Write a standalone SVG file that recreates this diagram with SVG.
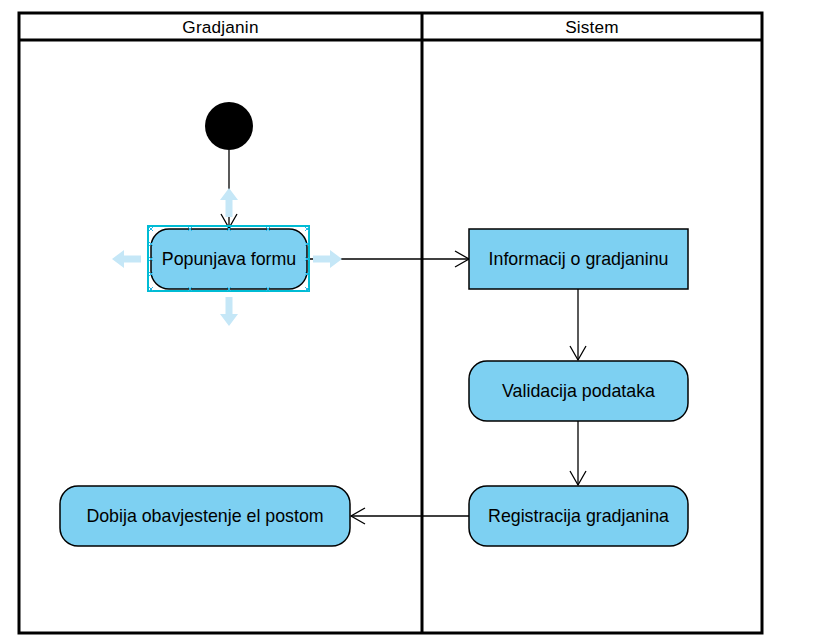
<svg xmlns="http://www.w3.org/2000/svg" width="818" height="644" viewBox="0 0 818 644">
<defs>
<marker id="open" markerWidth="18" markerHeight="20" refX="15" refY="9" orient="auto" markerUnits="userSpaceOnUse">
<path d="M1,1 L15,9 L1,17" fill="none" stroke="#000" stroke-width="1.3"/>
</marker>
<g id="hoverArrow">
<path d="M-3.5,0 L-3.5,-17 L-9,-17 L0,-29 L9,-17 L3.5,-17 L3.5,0 Z" fill="#c5e7f7"/>
</g>
<path id="hx" d="M-2,-2 L2,2 M-2,2 L2,-2" stroke="#29b6e6" stroke-width="1" fill="none"/>
</defs>
<style>
.lane{fill:none;stroke:#000;stroke-width:3}
.act{fill:#7dd0f2;stroke:#000;stroke-width:1.5}
.t{font-family:"Liberation Sans",Arial,sans-serif;font-size:17.8px;fill:#000;text-anchor:middle;dominant-baseline:central}
.h{font-size:17.2px;letter-spacing:0.2px}
.conn{fill:none;stroke:#000;stroke-width:1.3;marker-end:url(#open)}
</style>
<rect width="818" height="644" fill="#fff"/>
<g id="lanes">
<rect class="lane" x="19" y="13" width="743" height="620"/>
<line class="lane" x1="19" y1="40" x2="762" y2="40"/>
<line class="lane" x1="422" y1="13" x2="422" y2="633"/>
<text class="t h" x="220.5" y="27">Gradjanin</text>
<text class="t h" x="592" y="27">Sistem</text>
</g>
<g id="connectors">
<line class="conn" x1="229" y1="150" x2="229" y2="228"/>
<line class="conn" x1="307" y1="259" x2="469" y2="259"/>
<line class="conn" x1="578" y1="289" x2="578" y2="360"/>
<line class="conn" x1="578" y1="421" x2="578" y2="485"/>
<line class="conn" x1="469" y1="516" x2="351" y2="516"/>
</g>
<g id="start">
<circle cx="229" cy="126" r="24" fill="#000"/>
</g>
<g id="hover">
<use href="#hoverArrow" transform="translate(229,217)"/>
<use href="#hoverArrow" transform="translate(229,297) rotate(180)"/>
<use href="#hoverArrow" transform="translate(141,259) rotate(-90)"/>
<use href="#hoverArrow" transform="translate(313,259) rotate(90)"/>
</g>
<g id="popunjava">
<rect class="act" x="151" y="229" width="156" height="60" rx="18"/>
<text class="t" x="229" y="259">Popunjava formu</text>
</g>
<g id="selection">
<rect x="148" y="226" width="161" height="65" fill="none" stroke="#00bcd4" stroke-width="2"/>
<use href="#hx" x="151" y="229"/><use href="#hx" x="190" y="229"/><use href="#hx" x="229" y="229"/><use href="#hx" x="268" y="229"/><use href="#hx" x="307" y="229"/>
<use href="#hx" x="151" y="289"/><use href="#hx" x="190" y="289"/><use href="#hx" x="229" y="289"/><use href="#hx" x="268" y="289"/><use href="#hx" x="307" y="289"/>
<use href="#hx" x="151" y="244"/><use href="#hx" x="151" y="259"/><use href="#hx" x="151" y="274"/>
<use href="#hx" x="307" y="244"/><use href="#hx" x="307" y="259"/><use href="#hx" x="307" y="274"/>
</g>
<g id="informacij">
<rect class="act" x="469" y="229" width="219" height="60"/>
<text class="t" x="578.5" y="259">Informacij o gradjaninu</text>
</g>
<g id="validacija">
<rect class="act" x="469" y="361" width="219" height="60" rx="18"/>
<text class="t" x="578.5" y="391">Validacija podataka</text>
</g>
<g id="registracija">
<rect class="act" x="469" y="486" width="219" height="60" rx="18"/>
<text class="t" x="578.5" y="516">Registracija gradjanina</text>
</g>
<g id="dobija">
<rect class="act" x="60" y="486" width="290" height="60" rx="18"/>
<text class="t" x="205" y="516">Dobija obavjestenje el postom</text>
</g>
</svg>
